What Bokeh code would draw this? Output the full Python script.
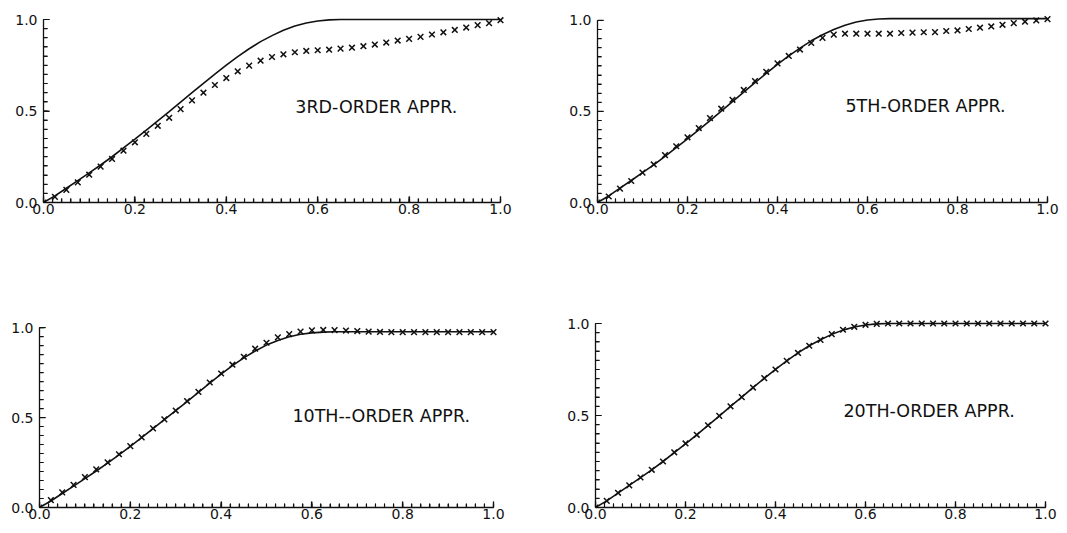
import numpy as np
from bokeh.plotting import figure
from bokeh.layouts import column, row
from bokeh.models import FixedTicker, Range1d, Label, PrintfTickFormatter
from bokeh.embed import file_html
from bokeh.resources import INLINE

# ---------------- data ----------------
x = [0.0, 0.025, 0.05, 0.075, 0.1, 0.125, 0.15, 0.175, 0.2, 0.225,
     0.25, 0.275, 0.3, 0.325, 0.35, 0.375, 0.4, 0.425, 0.45, 0.475,
     0.5, 0.525, 0.55, 0.575, 0.6, 0.625, 0.65, 0.675, 0.7, 0.725,
     0.75, 0.775, 0.8, 0.825, 0.85, 0.875, 0.9, 0.925, 0.95, 0.975, 1.0]

# exact response (solid line)
exact = [0.000, 0.036, 0.078, 0.120, 0.162, 0.205, 0.250, 0.298, 0.346, 0.395,
         0.446, 0.497, 0.549, 0.600, 0.651, 0.702, 0.751, 0.797, 0.840, 0.879,
         0.912, 0.941, 0.964, 0.981, 0.992, 0.998, 1.000, 1.000, 1.000, 1.000,
         1.000, 1.000, 1.000, 1.000, 1.000, 1.000, 1.000, 1.000, 1.000, 1.000, 1.000]

# solid line as drawn in the 5th-order panel
exact_p2 = [0.000, 0.036, 0.079, 0.121, 0.164, 0.207, 0.253, 0.301, 0.349, 0.399,
            0.450, 0.502, 0.554, 0.606, 0.658, 0.709, 0.759, 0.805, 0.848, 0.888,
            0.921, 0.950, 0.974, 0.991, 1.002, 1.008, 1.010, 1.010, 1.010, 1.010,
            1.010, 1.010, 1.010, 1.010, 1.010, 1.010, 1.010, 1.010, 1.010, 1.010, 1.010]

# solid line as drawn in the 10th-order panel
exact_p3 = [0.000, 0.036, 0.078, 0.119, 0.161, 0.203, 0.247, 0.293, 0.340, 0.388,
            0.438, 0.488, 0.538, 0.589, 0.640, 0.691, 0.741, 0.789, 0.832, 0.870,
            0.903, 0.929, 0.949, 0.963, 0.971, 0.975, 0.977, 0.977, 0.977, 0.977,
            0.977, 0.977, 0.977, 0.977, 0.977, 0.977, 0.977, 0.977, 0.977, 0.977, 0.977]

appr3 = [0.000, 0.031, 0.069, 0.110, 0.152, 0.196, 0.238, 0.283, 0.329, 0.375,
         0.419, 0.463, 0.510, 0.558, 0.600, 0.642, 0.680, 0.717, 0.748, 0.775,
         0.795, 0.810, 0.821, 0.828, 0.832, 0.835, 0.841, 0.846, 0.854, 0.863,
         0.874, 0.885, 0.894, 0.905, 0.918, 0.930, 0.943, 0.956, 0.969, 0.980, 0.996]

appr5 = [0.000, 0.033, 0.076, 0.118, 0.164, 0.209, 0.260, 0.309, 0.358, 0.409,
         0.464, 0.515, 0.564, 0.618, 0.667, 0.718, 0.764, 0.805, 0.840, 0.876,
         0.904, 0.922, 0.927, 0.927, 0.927, 0.927, 0.927, 0.931, 0.933, 0.935,
         0.936, 0.942, 0.945, 0.953, 0.960, 0.967, 0.976, 0.985, 0.993, 1.000, 1.007]

appr10 = [0.000, 0.041, 0.084, 0.126, 0.169, 0.212, 0.251, 0.296, 0.341, 0.390,
          0.440, 0.490, 0.539, 0.592, 0.643, 0.695, 0.745, 0.794, 0.838, 0.883,
          0.916, 0.946, 0.964, 0.978, 0.985, 0.987, 0.986, 0.984, 0.981, 0.978,
          0.976, 0.975, 0.975, 0.975, 0.975, 0.975, 0.975, 0.975, 0.975, 0.975, 0.975]

appr20 = [0.000, 0.036, 0.080, 0.120, 0.163, 0.205, 0.250, 0.300, 0.348, 0.395,
          0.447, 0.498, 0.550, 0.600, 0.652, 0.703, 0.750, 0.797, 0.840, 0.879,
          0.911, 0.942, 0.966, 0.982, 0.993, 0.998, 1.000, 1.000, 1.000, 1.000,
          1.000, 1.000, 1.000, 1.000, 1.000, 1.000, 1.000, 1.000, 1.000, 1.000, 1.000]

labels = ["3RD-ORDER APPR.", "5TH-ORDER APPR.", "10TH--ORDER APPR.", "20TH-ORDER APPR."]
x_ticks = [0.0, 0.2, 0.4, 0.6, 0.8, 1.0]
y_ticks = [0.0, 0.5, 1.0]
x_minor = [float(v) for v in np.round(np.arange(0, 1.0001, 0.02), 3)]
y_minor = [float(v) for v in np.round(np.arange(0, 1.0001, 0.05), 3)]

FONT = "DejaVu Sans"
INK = "#111111"


def panel(fw, fh, R, T, axes_px, line_y, cross_y, text, text_pos):
    ax0, ax1, ay0, ay1 = axes_px
    L = ax0
    B = fh - ay0
    sx = ax1 - ax0
    sy = ay0 - ay1
    xr = Range1d(0, (fw - R - ax0) / sx)
    yr = Range1d(0, (ay0 - T) / sy)
    p = figure(width=fw, height=fh, x_range=xr, y_range=yr,
               output_backend="svg", toolbar_location=None,
               min_border_left=L, min_border_right=R,
               min_border_top=T, min_border_bottom=B)
    p.outline_line_color = None
    p.grid.visible = False
    for ax, tk in ((p.xaxis[0], FixedTicker(ticks=x_ticks, minor_ticks=x_minor)),
                   (p.yaxis[0], FixedTicker(ticks=y_ticks, minor_ticks=y_minor))):
        ax.ticker = tk
        ax.bounds = (0, 1)
        ax.axis_line_color = INK
        ax.axis_line_width = 1.3
        ax.major_tick_line_color = INK
        ax.minor_tick_line_color = INK
        ax.major_tick_line_width = 1.2
        ax.minor_tick_line_width = 1.1
        ax.major_tick_in = 6
        ax.minor_tick_in = 4
        ax.major_tick_out = 0
        ax.minor_tick_out = 0
        ax.major_label_text_font = FONT
        ax.major_label_text_font_size = "14px"
        ax.major_label_text_color = INK
        ax.formatter = PrintfTickFormatter(format="%.1f")
    p.xaxis[0].major_label_standoff = 1
    p.yaxis[0].major_label_standoff = 6

    # inward tick marks at the ticker positions (same lengths as the axis ticks)
    p.segment(x0=x_minor, y0=[0.0] * len(x_minor), x1=x_minor,
              y1=[4.0 / sy] * len(x_minor), line_color=INK, line_width=1.1)
    p.segment(x0=x_ticks, y0=[0.0] * len(x_ticks), x1=x_ticks,
              y1=[6.0 / sy] * len(x_ticks), line_color=INK, line_width=1.2)
    p.segment(x0=[0.0] * len(y_minor), y0=y_minor, x1=[4.0 / sx] * len(y_minor),
              y1=y_minor, line_color=INK, line_width=1.1)
    p.segment(x0=[0.0] * len(y_ticks), y0=y_ticks, x1=[6.0 / sx] * len(y_ticks),
              y1=y_ticks, line_color=INK, line_width=1.2)

    p.line(x, line_y, line_color=INK, line_width=1.6)
    p.scatter(x, cross_y, marker="x", size=8, line_color=INK, line_width=1.5)
    p.add_layout(Label(x=text_pos[0], y=text_pos[1], text=text,
                       text_font=FONT, text_font_size="17.5px", text_color=INK,
                       text_baseline="middle", text_align="left"))
    return p


p1 = panel(533, 266, 14, 6, (43, 500, 202, 19), exact, appr3,
           labels[0], (0.551, 0.52))
p2 = panel(534, 266, 4, 6, (64, 514, 203, 20), exact_p2, appr5,
           labels[1], (0.551, 0.53))
p3 = panel(533, 267, 20, 20, (39, 493, 251, 63), exact_p3, appr10,
           labels[2], (0.557, 0.51))
p4 = panel(534, 267, 4, 20, (62, 512, 241, 57), exact, appr20,
           labels[3], (0.551, 0.527))

layout = column(row(p1, p2), row(p3, p4))
open("out.html", "w").write(file_html(layout, INLINE))
